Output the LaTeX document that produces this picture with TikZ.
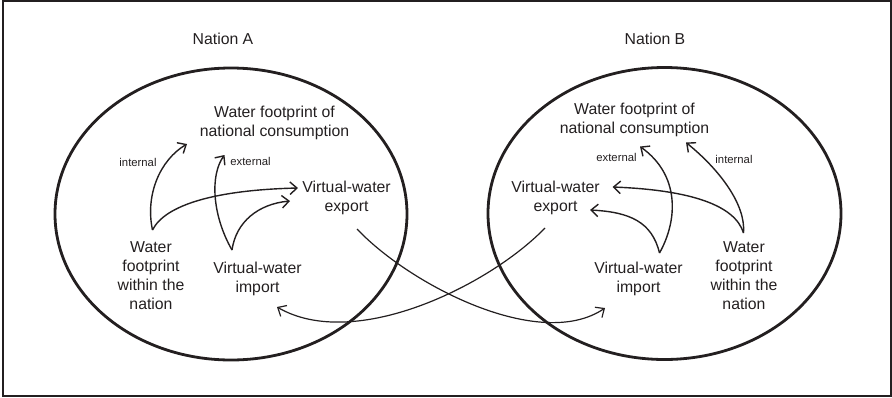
\documentclass[tikz,border=0pt]{standalone}
\usepackage{fontspec}
\setmainfont{Liberation Sans}
\usetikzlibrary{arrows.meta}
\definecolor{ink}{HTML}{231F20}
\begin{document}
\begin{tikzpicture}[x=1pt,y=-1pt,
  lbl/.style={text=ink,align=center,inner sep=0pt,font=\fontsize{15.8}{19}\selectfont},
  small/.style={text=ink,inner sep=0pt,font=\fontsize{11.3}{13}\selectfont},
  nation/.style={ink,line width=2.8pt},
  arr/.style={ink,line width=1.4pt,-{Straight Barb[length=7pt,width=12.5pt,line width=1.4pt]}},
  trade/.style={ink,line width=1.2pt,-{Straight Barb[length=7pt,width=12.5pt,line width=1.2pt]}}]
\useasboundingbox (0,0) rectangle (892,397);
\draw[ink,line width=2pt] (3,1.2) rectangle (890.8,395.8);

% nations
\node[lbl] (titleA) at (223,39) {Nation A};
\node[lbl] (titleB) at (655,39) {Nation B};
\draw[nation] (231,214) ellipse [x radius=176pt, y radius=146pt];
\draw[nation] (664.5,213.5) ellipse [x radius=176.5pt, y radius=146pt];

% Nation A texts
\node[lbl] (consA) at (274.5,122.5) {Water footprint of\\national consumption};
\node[lbl] (exportA) at (346.5,197.5) {Virtual-water\\export};
\node[lbl] (wfA) at (151,276) {Water\\footprint\\within the\\nation};
\node[lbl] (importA) at (257.5,278.5) {Virtual-water\\import};
\node[small] (internalA) at (138,162) {internal};
\node[small] (externalA) at (250.5,161) {external};

% Nation B texts
\node[lbl] (consB) at (634.5,119.5) {Water footprint of\\national consumption};
\node[lbl] (exportB) at (555.5,197.5) {Virtual-water\\export};
\node[lbl] (wfB) at (744,276) {Water\\footprint\\within the\\nation};
\node[lbl] (importB) at (638.5,278.5) {Virtual-water\\import};
\node[small] (externalB) at (616.5,157) {external};
\node[small] (internalB) at (734,159) {internal};

% connector end points
\coordinate (wfA-o) at (152.5,230);
\coordinate (impA-o) at (232,250);
\coordinate (consA-i1) at (187,144);
\coordinate (consA-i2) at (224.5,155);
\coordinate (expA-i1) at (298,188);
\coordinate (expA-i2) at (290,201);
\coordinate (expA-o) at (357,229);
\coordinate (impA-i) at (277,307);

\coordinate (wfB-o) at (743.5,233);
\coordinate (impB-o) at (659.5,253);
\coordinate (consB-i1) at (686,142.5);
\coordinate (consB-i2) at (640,146.5);
\coordinate (expB-i1) at (612.5,187);
\coordinate (expB-i2) at (590,210);
\coordinate (expB-o) at (545,228);
\coordinate (impB-i) at (605,308);

% Nation A arrows
\draw[arr] (wfA-o) .. controls (145,195) and (160,160) .. (consA-i1);
\draw[arr] (wfA-o) .. controls (165,205) and (215,190) .. (expA-i1);
\draw[arr] (impA-o) .. controls (212,215) and (210,175) .. (consA-i2);
\draw[arr] (impA-o) .. controls (236,222) and (258,204) .. (expA-i2);

% Nation B arrows
\draw[arr] (wfB-o) .. controls (746,205) and (720,170) .. (consB-i1);
\draw[arr] (wfB-o) .. controls (735,205) and (690,190) .. (expB-i1);
\draw[arr] (impB-o) .. controls (678,220) and (680,175) .. (consB-i2);
\draw[arr] (impB-o) .. controls (652,222) and (630,212) .. (expB-i2);

% trade
\draw[trade] (expA-o) .. controls (410,285) and (540,352) .. (impB-i);
\draw[trade] (expB-o) .. controls (490,285) and (355,352) .. (impA-i);
\end{tikzpicture}
\end{document}
